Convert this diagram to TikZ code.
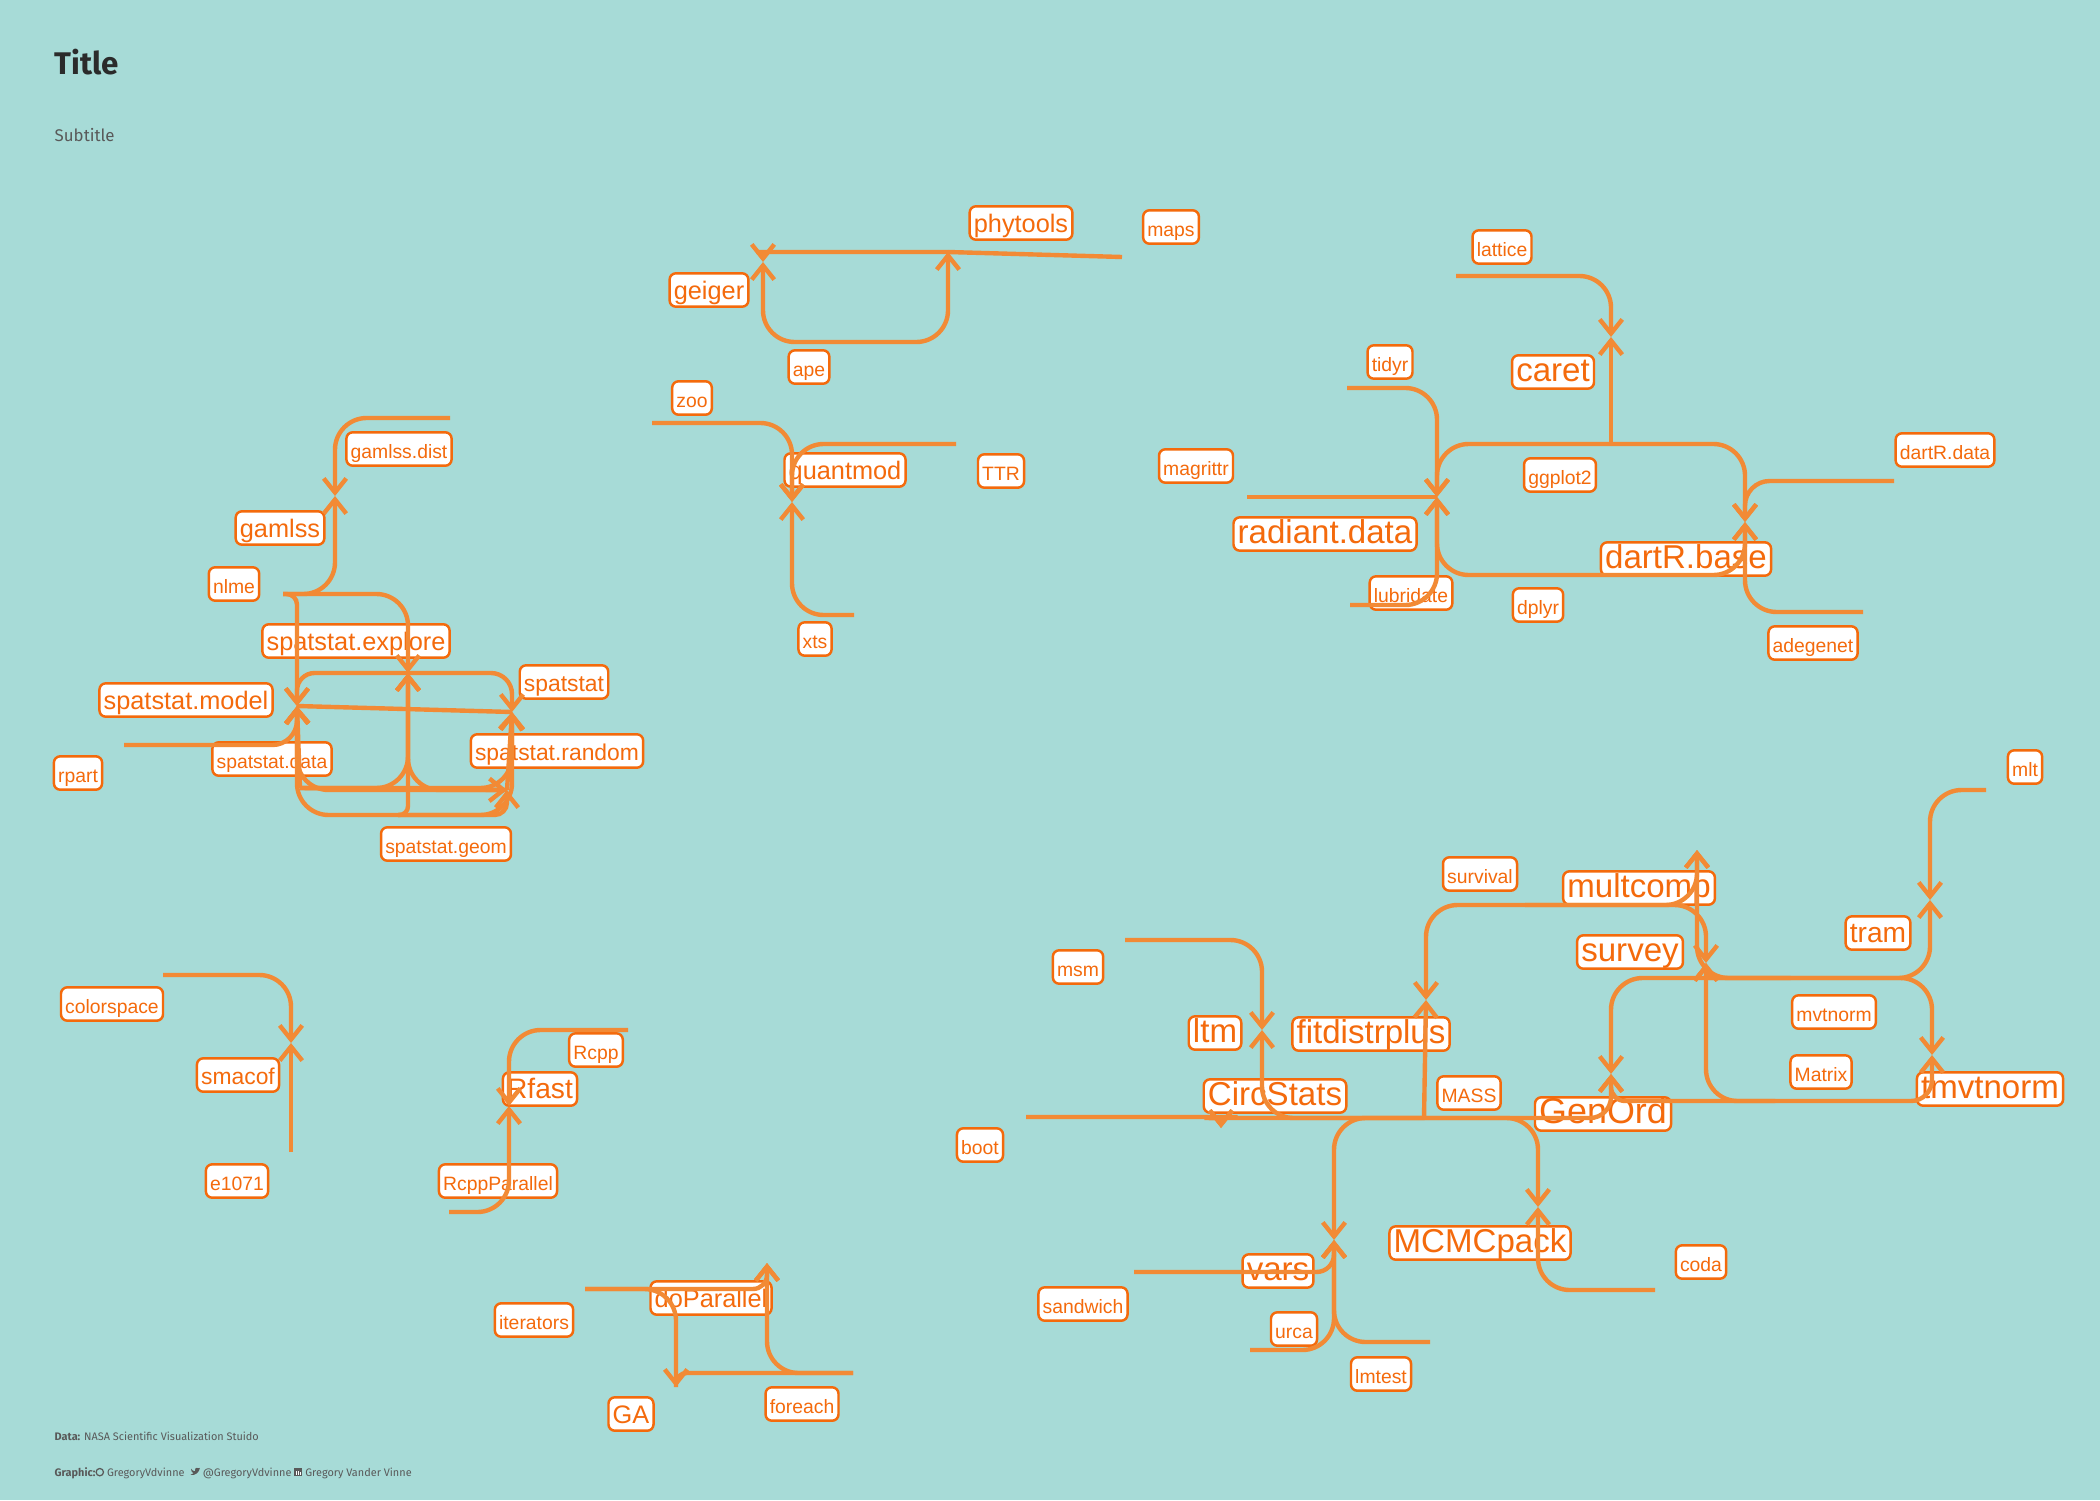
\documentclass[tikz,border=0pt]{standalone}
\usepackage{fontspec}
\usetikzlibrary{arrows.meta}
\setmainfont{Liberation Sans}
\newfontfamily\capfont{Fira Sans}
\definecolor{bgteal}{HTML}{A7DBD7}
\definecolor{edgeor}{HTML}{F28A35}
\definecolor{labelor}{HTML}{F46A0C}
\definecolor{titlegray}{HTML}{2B2B2B}
\definecolor{subgray}{HTML}{595959}

\newcommand{\ghicon}{\tikz[baseline=0pt,x=1pt,y=1pt]{\draw[subgray,line width=0.35pt] (1.2,1.1) circle (1.05);}}
\newcommand{\twicon}{\tikz[baseline=0pt,x=1pt,y=1pt]{\fill[subgray] (0,0.3) .. controls (1.2,0) and (2.6,1) .. (2.7,2.3) -- (2.3,2.2) .. controls (1.6,2.7) and (1,1.8) .. (1.3,1.3) .. controls (0.8,1.4) and (0.3,1.8) .. (0.2,2.1) .. controls (0.1,1.4) and (0.5,1) .. (0.9,0.8) .. controls (0.6,0.5) and (0.3,0.4) .. (0,0.3) -- cycle;}}
\newcommand{\inicon}{\tikz[baseline=0pt,x=1pt,y=1pt]{\fill[subgray] (0,0) rectangle (2.3,2.3); \fill[white] (0.45,0.35) rectangle (0.8,1.4); \fill[white] (1.05,0.35) rectangle (1.4,1.4); \fill[white] (1.5,0.35) rectangle (1.85,1.2);}}

\tikzset{
  pkg/.style={draw=labelor, fill=white, text=labelor, line width=0.7pt,
    rounded corners=1.8pt, inner xsep=1.2pt, inner ysep=0.4pt,
    text height=0.7em, text depth=0.17em},
  pkgS/.style={pkg, font=\fontsize{5.5pt}{6pt}\selectfont},
  pkgM/.style={pkg, font=\fontsize{6.5pt}{7pt}\selectfont},
  pkgL/.style={pkg, font=\fontsize{7.2pt}{8pt}\selectfont},
  pkgLp/.style={pkg, font=\fontsize{8pt}{9pt}\selectfont},
  pkgXL/.style={pkg, font=\fontsize{9.4pt}{10pt}\selectfont},
  dep/.style={draw=edgeor, line width=1.25pt, rounded corners=9pt,
    -{Straight Barb[length=4pt,width=6.4pt]}},
  deplink/.style={dep, -},
  captxt/.style={anchor=base west, inner sep=0pt, text=subgray}
}

\begin{document}
\begin{tikzpicture}[x=0.01cm, y=-0.01cm]
	\fill[bgteal] (0,0) rectangle (2100,1500);
	\useasboundingbox (0,0) rectangle (2100,1500);

	% title block
	\node[captxt, text=titlegray, font=\capfont\bfseries\fontsize{8.9pt}{10pt}\selectfont] (title) at (54,75) {Title};
	\node[captxt, font=\capfont\fontsize{4.8pt}{6pt}\selectfont] (subtitle) at (54,142) {Subtitle};

	% labels
	\node[pkgS] (maps) at (1171,227) {maps};
	\node[pkgL] (phytools) at (1021,223) {phytools};
	\node[pkgL] (geiger) at (709,290) {geiger};
	\node[pkgS] (ape) at (809,367) {ape};
	\node[pkgS] (zoo) at (692,398) {zoo};
	\node[pkgL] (quantmod) at (845,470) {quantmod};
	\node[pkgS] (TTR) at (1001,471) {TTR};
	\node[pkgS] (xts) at (815,639) {xts};

	\node[pkgS] (lattice) at (1502,247) {lattice};
	\node[pkgS] (tidyr) at (1390,362) {tidyr};
	\node[pkgXL] (caret) at (1553,372) {caret};
	\node[pkgS] (magrittr) at (1196,466) {magrittr};
	\node[pkgS] (ggplot2) at (1560,475) {ggplot2};
	\node[pkgS] (dartRdata) at (1945,450) {dartR.data};
	\node[pkgXL] (radiantdata) at (1325,534) {radiant.data};
	\node[pkgXL] (dartRbase) at (1686,559) {dartR.base};
	\node[pkgS] (lubridate) at (1411,593) {lubridate};
	\node[pkgS] (dplyr) at (1538,605) {dplyr};
	\node[pkgS] (adegenet) at (1813,643) {adegenet};

	\node[pkgS] (gamlssdist) at (399,449) {gamlss.dist};
	\node[pkgL] (gamlss) at (280,528) {gamlss};
	\node[pkgS] (nlme) at (234,584) {nlme};
	\node[pkgL] (spexplore) at (356,641) {spatstat.explore};
	\node[pkgM] (spatstat) at (564,682) {spatstat};
	\node[pkgL] (spmodel) at (186,700) {spatstat.model};
	\node[pkgS] (rpart) at (78,773) {rpart};
	\node[pkgS] (spdata) at (272,759) {spatstat.data};
	\node[pkgM] (sprandom) at (557,751) {spatstat.random};
	\node[pkgS] (spgeom) at (446,844) {spatstat.geom};

	\node[pkgS] (colorspace) at (112,1004) {colorspace};
	\node[pkgM] (smacof) at (238,1075) {smacof};
	\node[pkgS] (e1071) at (237,1181) {e1071};
	\node[pkgS] (Rcpp) at (596,1050) {Rcpp};
	\node[pkgLp] (Rfast) at (540,1089) {Rfast};
	\node[pkgS] (RcppParallel) at (498,1181) {RcppParallel};
	\node[pkgS] (iterators) at (534,1320) {iterators};
	\node[pkgL] (doParallel) at (711,1298) {doParallel};
	\node[pkgL] (GA) at (631,1414) {GA};
	\node[pkgS] (foreach) at (802,1404) {foreach};

	\node[pkgS] (mlt) at (2025,767) {mlt};
	\node[pkgS] (survival) at (1480,874) {survival};
	\node[pkgXL] (multcomp) at (1639,888) {multcomp};
	\node[pkgXL] (survey) at (1630,952) {survey};
	\node[pkgLp] (tram) at (1878,933) {tram};
	\node[pkgS] (msm) at (1078,967) {msm};
	\node[pkgS] (mvtnorm) at (1834,1012) {mvtnorm};
	\node[pkgXL] (ltm) at (1215,1033) {ltm};
	\node[pkgXL] (fitdistrplus) at (1371,1034) {fitdistrplus};
	\node[pkgS] (Matrix) at (1821,1072) {Matrix};
	\node[pkgXL] (tmvtnorm) at (1990,1089) {tmvtnorm};
	\node[pkgXL] (CircStats) at (1275,1096) {CircStats};
	\node[pkgS] (MASS) at (1469,1093) {MASS};
	\node[pkgXL, font=\fontsize{10.2pt}{11pt}\selectfont] (GenOrd) at (1603,1114) {GenOrd};
	\node[pkgS] (boot) at (980,1145) {boot};
	\node[pkgXL] (MCMCpack) at (1480,1243) {MCMCpack};
	\node[pkgS] (coda) at (1701,1262) {coda};
	\node[pkgXL] (vars) at (1278,1271) {vars};
	\node[pkgS] (sandwich) at (1083,1304) {sandwich};
	\node[pkgS] (urca) at (1294,1329) {urca};
	\node[pkgS] (lmtest) at (1381,1374) {lmtest};

	% graph points
	\coordinate (p-maps) at (1122,257);
	\coordinate (p-phytools) at (948,252);
	\coordinate (p-geiger) at (763,262);
	\coordinate (p-ape) at (856,342);
	\coordinate (p-zoo) at (652,423);
	\coordinate (p-TTR) at (956,444);
	\coordinate (p-xts) at (854,615);
	\coordinate (p-quantmod) at (792,502);

	\coordinate (p-lattice) at (1456,276);
	\coordinate (p-caret) at (1611,337);
	\coordinate (p-tidyr) at (1347,388);
	\coordinate (p-magrittr) at (1247,497);
	\coordinate (p-radiantdata) at (1437,497);
	\coordinate (p-lubridate) at (1350,605);
	\coordinate (p-ggplot2) at (1611,444);
	\coordinate (p-dplyr) at (1590,575);
	\coordinate (p-dartRbase) at (1745,522);
	\coordinate (p-dartRdata) at (1894,481);
	\coordinate (p-adegenet) at (1863,612);

	\coordinate (p-gamlssdist) at (450,418);
	\coordinate (p-gamlss) at (335,496);
	\coordinate (p-nlme) at (283,594);
	\coordinate (p-spexplore) at (408,673);
	\coordinate (p-spmodel) at (297,706);
	\coordinate (p-rpart) at (124,745);
	\coordinate (p-spatstat) at (512,712);
	\coordinate (p-sprandom) at (507,790);
	\coordinate (p-spdata) at (300,788);
	\coordinate (p-spgeom) at (398,815);

	\coordinate (p-colorspace) at (163,975);
	\coordinate (p-smacof) at (291,1043);
	\coordinate (p-e1071) at (291,1152);
	\coordinate (p-Rcpp) at (628,1030);
	\coordinate (p-Rfast) at (509,1106);
	\coordinate (p-RcppParallel) at (449,1212);
	\coordinate (p-iterators) at (585,1289);
	\coordinate (p-doParallel) at (767,1263);
	\coordinate (p-GA) at (676,1387);
	\coordinate (p-foreach) at (853,1373);

	\coordinate (p-mlt) at (1986,790);
	\coordinate (p-tram) at (1930,900);
	\coordinate (p-mvtnorm) at (1790,978);
	\coordinate (p-survival) at (1525,905);
	\coordinate (p-multcomp) at (1697,850);
	\coordinate (p-survey) at (1706,963);
	\coordinate (p-Matrix) at (1775,1101);
	\coordinate (p-fitdistrplus) at (1426,1000);
	\coordinate (p-MASS) at (1424,1118);
	\coordinate (p-GenOrd) at (1611,1074);
	\coordinate (p-tmvtnorm) at (1932,1055);
	\coordinate (p-msm) at (1125,940);
	\coordinate (p-ltm) at (1262,1030);
	\coordinate (p-boot) at (1026,1117);
	\coordinate (p-CircStats) at (1221,1128);
	\coordinate (p-vars) at (1334,1240);
	\coordinate (p-sandwich) at (1134,1272);
	\coordinate (p-urca) at (1250,1350);
	\coordinate (p-lmtest) at (1430,1342);
	\coordinate (p-MCMCpack) at (1538,1207);
	\coordinate (p-coda) at (1655,1290);

	% phytools / quantmod
	\draw[dep] (p-ape) -| (p-geiger);
	\draw[dep] (p-ape) -| (p-phytools);
	\draw[deplink] (p-maps) -- (p-phytools);
	\draw[dep] (p-phytools) -- ++(-160,0) to[out=180,in=90] (p-geiger);
	\draw[dep] (p-zoo) -| (p-quantmod);
	\draw[dep] (p-TTR) -| (p-quantmod);
	\draw[dep] (p-xts) -| (p-quantmod);

	% caret / radiant.data / dartR.base
	\draw[dep] (p-lattice) -| (p-caret);
	\draw[dep] (p-ggplot2) -- (p-caret);
	\draw[dep] (p-tidyr) -| (p-radiantdata);
	\draw[deplink] (p-magrittr) -- (p-radiantdata);
	\draw[dep] (p-lubridate) -| (p-radiantdata);
	\draw[dep] (p-ggplot2) -| (p-radiantdata);
	\draw[dep] (p-dplyr) -| (p-radiantdata);
	\draw[dep] (p-ggplot2) -| (p-dartRbase);
	\draw[dep] (p-dplyr) -| (p-dartRbase);
	\draw[dep, rounded corners=7pt] (p-dartRdata) -| (p-dartRbase);
	\draw[dep] (p-adegenet) -| (p-dartRbase);

	% gamlss / spatstat
	\draw[dep] (p-gamlssdist) -| (p-gamlss);
	\draw[dep] (p-nlme) -| (p-gamlss);
	\draw[dep] (p-nlme) -| (p-spexplore);
	\draw[dep, rounded corners=3pt] (p-nlme) -| (p-spmodel);
	\draw[dep, rounded corners=7pt] (p-rpart) -| (p-spmodel);
	\draw[deplink] (p-spmodel) -- (p-spatstat);
	\draw[dep, rounded corners=5pt] (p-spexplore) -| (p-spmodel);
	\draw[dep, rounded corners=6pt] (p-spexplore) -| (p-spatstat);
	\draw[dep] (p-sprandom) -| (p-spexplore);
	\draw[dep] (p-sprandom) -| (p-spmodel);
	\draw[dep] (p-sprandom) -- (p-spatstat);
	\draw[dep] (p-spdata) -- (p-sprandom);
	\draw[dep] (p-spdata) -| (p-spexplore);
	\draw[dep] (p-spdata) -- (p-spmodel);
	\draw[dep] (p-spdata) -| (p-spatstat);
	\draw[dep, rounded corners=3.5pt] (p-spgeom) -| (p-sprandom);
	\draw[dep, rounded corners=2.5pt] (p-spgeom) -| (p-spexplore);
	\draw[dep] (p-spgeom) -| (p-spmodel);
	\draw[dep] (p-spgeom) -| (p-spatstat);

	% smacof / Rfast / doParallel
	\draw[dep] (p-colorspace) -| (p-smacof);
	\draw[dep] (p-e1071) -- (p-smacof);
	\draw[dep] (p-Rcpp) -| (p-Rfast);
	\draw[dep] (p-RcppParallel) -| (p-Rfast);
	\draw[dep, rounded corners=4pt] (p-iterators) -| (p-doParallel);
	\draw[dep] (p-iterators) -| (p-GA);
	\draw[dep] (p-foreach) -| (p-doParallel);
	\draw[deplink, rounded corners=3pt] (p-foreach) -| (p-GA);

	% tram / multcomp / survey / tmvtnorm / GenOrd
	\draw[dep] (p-mlt) -| (p-tram);
	\draw[dep] (p-mvtnorm) -| (p-tram);
	\draw[dep] (p-mvtnorm) -| (p-multcomp);
	\draw[dep] (p-survival) -| (p-multcomp);
	\draw[dep] (p-survival) -| (p-survey);
	\draw[dep] (p-mvtnorm) -- ++(-50,0) to[out=180,in=-90] (p-survey);
	\draw[dep] (p-Matrix) -| (p-survey);
	\draw[dep] (p-survival) -| (p-fitdistrplus);
	\draw[dep] (p-MASS) -- (p-fitdistrplus);
	\draw[dep] (p-mvtnorm) -| (p-GenOrd);
	\draw[dep, rounded corners=4pt] (p-Matrix) -| (p-GenOrd);
	\draw[dep, rounded corners=6pt] (p-MASS) -| (p-GenOrd);
	\draw[dep] (p-mvtnorm) -| (p-tmvtnorm);
	\draw[dep, rounded corners=6pt] (p-Matrix) -| (p-tmvtnorm);

	% ltm / CircStats / vars / MCMCpack
	\draw[dep] (p-msm) -| (p-ltm);
	\draw[dep] (p-MASS) -| (p-ltm);
	\draw[dep] (p-boot) -- ++(180,0) to[out=0,in=90] (p-CircStats);
	\draw[dep] (p-MASS) -- ++(-188,0) to[out=180,in=90] (p-CircStats);
	\draw[dep] (p-MASS) -| (p-vars);
	\draw[dep, rounded corners=5pt] (p-sandwich) -| (p-vars);
	\draw[dep] (p-urca) -| (p-vars);
	\draw[dep] (p-lmtest) -| (p-vars);
	\draw[dep] (p-MASS) -| (p-MCMCpack);
	\draw[dep] (p-coda) -| (p-MCMCpack);

	% caption
	\node[captxt, font=\capfont\fontsize{3.1pt}{4pt}\selectfont] (data) at (54,1440) {\textbf{Data:} NASA Scientific Visualization Stuido};
	\node[captxt, font=\capfont\fontsize{3.1pt}{4pt}\selectfont] (graphic) at (54,1476) {\textbf{Graphic:}\ghicon{} GregoryVdvinne \ \twicon{} @GregoryVdvinne \inicon{} Gregory Vander Vinne};
\end{tikzpicture}
\end{document}
